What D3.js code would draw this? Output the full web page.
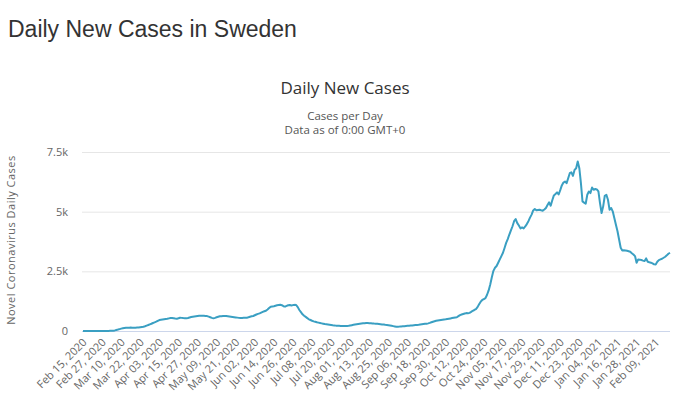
<!DOCTYPE html>
<html lang="en">
<head>
<meta charset="UTF-8">
<title>Daily New Cases in Sweden</title>
<script src="https://cdn.jsdelivr.net/npm/d3@7"></script>
<style>
  body { margin: 0; background: #fff; }
  .page-title { font-family: "Liberation Sans", Arial, sans-serif; font-size: 23px; fill: #333; }
  .chart text { font-family: "Open Sans", sans-serif; }
</style>
</head>
<body>
<svg id="chart" width="700" height="415"></svg>
<script>
// first day of the series, one value per day after it
const startDate = '2020-02-15'

const tickLabels = ['Feb 15, 2020','Feb 27, 2020','Mar 10, 2020','Mar 22, 2020','Apr 03, 2020','Apr 15, 2020',
  'Apr 27, 2020','May 09, 2020','May 21, 2020','Jun 02, 2020','Jun 14, 2020','Jun 26, 2020','Jul 08, 2020',
  'Jul 20, 2020','Aug 01, 2020','Aug 13, 2020','Aug 25, 2020','Sep 06, 2020','Sep 18, 2020','Sep 30, 2020',
  'Oct 12, 2020','Oct 24, 2020','Nov 05, 2020','Nov 17, 2020','Nov 29, 2020','Dec 11, 2020','Dec 23, 2020',
  'Jan 04, 2021','Jan 16, 2021','Jan 28, 2021','Feb 09, 2021']

const yTicks = [0, 2500, 5000, 7500]

const dailyCases = [
  0,0,0,0,0,0,0,0,1,1,1,2,2,3,3,
  3,5,7,10,15,25,42,60,80,100,113,125,135,138,140,142,140,138,140,145,150,160,170,180,200,225,250,280,305,335,360,390,425,460,470,480,490,500,510,530,545,540,530,520,515,
  535,557,550,540,535,530,545,565,585,600,610,620,630,640,642,640,635,630,625,600,575,550,530,550,575,595,615,620,625,628,
  630,620,610,600,590,580,570,560,550,545,548,552,555,557,575,595,615,630,660,690,715,740,770,800,825,850,900,960,1020,1030,
  1040,1060,1080,1090,1100,1080,1040,1020,1050,1080,1090,1070,1085,1095,1090,1000,880,790,700,640,590,540,490,460,430,405,385,365,350,335,
  320,305,290,280,270,260,250,240,232,225,220,216,213,210,208,210,212,220,232,245,258,270,280,290,300,310,320,328,335,332,
  328,322,316,310,306,300,292,284,276,268,258,250,240,228,216,204,192,180,182,186,192,198,204,210,216,222,228,234,240,247,
  252,260,270,280,290,300,306,320,340,365,390,410,430,442,452,462,472,482,490,502,515,528,541,554,565,575,620,667,690,710,
  730,750,745,760,800,847,880,917,1000,1120,1230,1300,1340,1380,1520,1700,1950,2250,2520,2650,2722,2860,3000,3140,3278,3480,3694,3850,4042,4220,
  4389,4600,4690,4520,4420,4300,4340,4300,4380,4480,4600,4750,4875,5050,5111,5056,5070,5083,5060,5042,5090,5153,5280,5389,5250,5480,5680,5740,5806,5720,
  5900,6100,6220,6264,6194,6400,6611,6650,6500,6750,6820,7100,6820,6194,5431,5380,5333,5708,5847,5778,6014,5917,5950,5930,5847,5361,4944,5222,5667,5708,
  5500,5083,5153,5014,4736,4450,4181,3833,3486,3375,3380,3375,3360,3340,3320,3260,3208,3139,2861,3000,2990,2972,2950,2930,3042,2903,2880,2861,2830,2792,
  2790,2900,2972,3000,3028,3070,3111,3170,3236,3278
]

let parseDay = d3.timeParse('%Y-%m-%d')
let parseTick = d3.timeParse('%b %d, %Y')
let day0 = parseDay(startDate)

let data = dailyCases.map((v, i) => ({ date: d3.timeDay.offset(day0, i), value: v }))

let svg = d3.select('#chart')

svg.append('text')
    .attr('class', 'page-title')
    .attr('x', 8)
    .attr('y', 37)
    .text('Daily New Cases in Sweden')

let chart = svg.append('g').attr('class', 'chart')

let x = d3.scaleTime()
    .domain([data[0].date, data[data.length - 1].date])
    .range([83, 670])

let y = d3.scaleLinear()
    .domain([0, 7500])
    .range([331, 152])

// titles
chart.append('text')
    .attr('x', 345).attr('y', 94)
    .attr('text-anchor', 'middle')
    .style('font-size', '17px')
    .style('fill', '#333')
    .text('Daily New Cases')

chart.append('text')
    .attr('x', 345).attr('y', 120)
    .attr('text-anchor', 'middle')
    .style('font-size', '11.5px')
    .style('fill', '#555')
    .text('Cases per Day')

chart.append('text')
    .attr('x', 345).attr('y', 134)
    .attr('text-anchor', 'middle')
    .style('font-size', '11.5px')
    .style('fill', '#555')
    .text('Data as of 0:00 GMT+0')

// y axis title
chart.append('text')
    .attr('transform', 'translate(15,240) rotate(-90)')
    .attr('text-anchor', 'middle')
    .style('font-size', '11px')
    .style('letter-spacing', '0.5px')
    .style('fill', '#666')
    .text('Novel Coronavirus Daily Cases')

// grid + y labels
let yAxis = d3.axisLeft(y)
    .tickValues(yTicks)
    .tickSize(-(670 - 82))
    .tickPadding(14)
    .tickFormat(v => v === 0 ? '0' : (v / 1000) + 'k')

chart.append('g')
    .attr('transform', 'translate(82,0)')
    .call(yAxis)
    .call(g => g.select('.domain').remove())
    .call(g => g.selectAll('.tick line').attr('stroke', '#e6e6e6'))
    .call(g => g.selectAll('.tick text').style('font-size', '11px').style('fill', '#666'))

// x axis
let xAxis = d3.axisBottom(x)
    .tickValues(tickLabels.map(parseTick))
    .tickSize(0)
    .tickFormat(d3.timeFormat('%b %d, %Y'))

chart.append('g')
    .attr('transform', 'translate(0,331)')
    .call(xAxis)
    .call(g => g.select('.domain').attr('stroke', '#ccd6eb').attr('d', 'M82,0.5H670'))
    .call(g => g.selectAll('.tick text')
        .attr('y', 0).attr('dy', 0)
        .attr('text-anchor', 'end')
        .attr('transform', 'translate(4,12) rotate(-45)')
        .style('font-size', '11px')
        .style('fill', '#666'))

// the line
let line = d3.line()
    .x(d => x(d.date))
    .y(d => y(d.value))

chart.append('path')
    .datum(data)
    .attr('d', line)
    .attr('fill', 'none')
    .attr('stroke', '#3a9fc2')
    .attr('stroke-width', 2)
    .attr('stroke-linejoin', 'round')
</script>
</body>
</html>
